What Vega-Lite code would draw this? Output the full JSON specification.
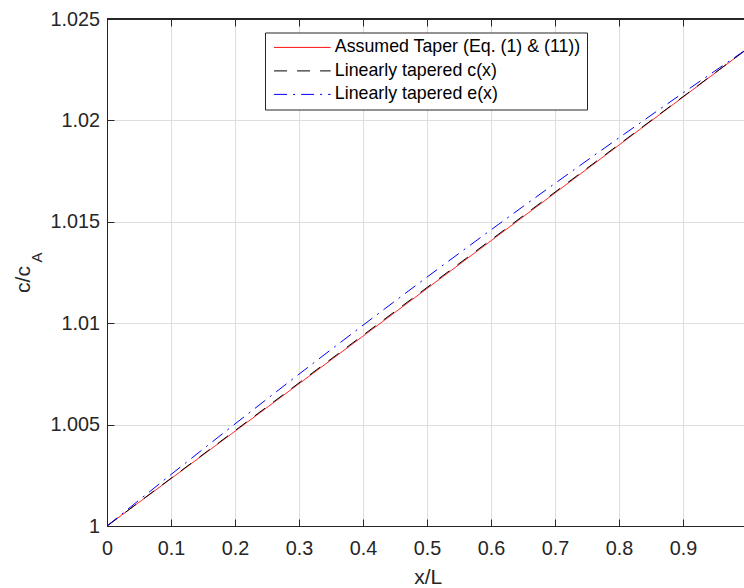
{
  "$schema": "https://vega.github.io/schema/vega-lite/v6.json",
  "width": 637,
  "height": 507,
  "autosize": "none",
  "padding": {"left": 107, "top": 19, "right": 0, "bottom": 62},
  "background": "white",
  "config": {
    "view": {"stroke": null},
    "font": "Liberation Sans",
    "axis": {
      "domainColor": "#262626",
      "domainWidth": 1,
      "tickColor": "#262626",
      "tickWidth": 1,
      "tickSize": -7,
      "labelColor": "#262626",
      "labelFont": "Liberation Sans",
      "labelFontSize": 19.8,
      "labelFlush": false,
      "labelOverlap": false,
      "labelBound": false,
      "titleColor": "#262626",
      "titleFont": "Liberation Sans",
      "titleFontSize": 21,
      "titleFontWeight": "normal",
      "gridColor": "#dedede",
      "gridWidth": 1
    },
    "legend": {
      "orient": "none",
      "legendX": 158,
      "legendY": 13.5,
      "symbolType": "M-1,0H8.7",
      "symbolSize": 136,
      "symbolStrokeWidth": 1,
      "labelFont": "Liberation Sans",
      "labelFontSize": 17.8,
      "labelColor": "#000000",
      "labelLimit": 400,
      "labelOffset": 46,
      "strokeColor": "#262626",
      "fillColor": "white",
      "padding": 6,
      "rowPadding": 4.5
    }
  },
  "data": {
    "values": [
      {"s": "Assumed Taper (Eq. (1) & (11))", "x": 0, "y": 1.0},
      {"s": "Assumed Taper (Eq. (1) & (11))", "x": 0.05, "y": 1.001167},
      {"s": "Assumed Taper (Eq. (1) & (11))", "x": 0.1, "y": 1.002334},
      {"s": "Assumed Taper (Eq. (1) & (11))", "x": 0.15, "y": 1.003503},
      {"s": "Assumed Taper (Eq. (1) & (11))", "x": 0.2, "y": 1.004672},
      {"s": "Assumed Taper (Eq. (1) & (11))", "x": 0.25, "y": 1.005843},
      {"s": "Assumed Taper (Eq. (1) & (11))", "x": 0.3, "y": 1.007014},
      {"s": "Assumed Taper (Eq. (1) & (11))", "x": 0.35, "y": 1.008187},
      {"s": "Assumed Taper (Eq. (1) & (11))", "x": 0.4, "y": 1.00936},
      {"s": "Assumed Taper (Eq. (1) & (11))", "x": 0.45, "y": 1.010535},
      {"s": "Assumed Taper (Eq. (1) & (11))", "x": 0.5, "y": 1.01171},
      {"s": "Assumed Taper (Eq. (1) & (11))", "x": 0.55, "y": 1.012886},
      {"s": "Assumed Taper (Eq. (1) & (11))", "x": 0.6, "y": 1.014064},
      {"s": "Assumed Taper (Eq. (1) & (11))", "x": 0.65, "y": 1.015243},
      {"s": "Assumed Taper (Eq. (1) & (11))", "x": 0.7, "y": 1.016422},
      {"s": "Assumed Taper (Eq. (1) & (11))", "x": 0.75, "y": 1.017603},
      {"s": "Assumed Taper (Eq. (1) & (11))", "x": 0.8, "y": 1.018784},
      {"s": "Assumed Taper (Eq. (1) & (11))", "x": 0.85, "y": 1.019967},
      {"s": "Assumed Taper (Eq. (1) & (11))", "x": 0.9, "y": 1.02115},
      {"s": "Assumed Taper (Eq. (1) & (11))", "x": 0.95, "y": 1.022335},
      {"s": "Assumed Taper (Eq. (1) & (11))", "x": 1.0, "y": 1.02352},
      {"s": "Linearly tapered c(x)", "x": 0, "y": 1.0},
      {"s": "Linearly tapered c(x)", "x": 0.25, "y": 1.00588},
      {"s": "Linearly tapered c(x)", "x": 0.5, "y": 1.01176},
      {"s": "Linearly tapered c(x)", "x": 0.75, "y": 1.01764},
      {"s": "Linearly tapered c(x)", "x": 1.0, "y": 1.02352},
      {"s": "Linearly tapered e(x)", "x": 0, "y": 1.0},
      {"s": "Linearly tapered e(x)", "x": 0.05, "y": 1.001273},
      {"s": "Linearly tapered e(x)", "x": 0.1, "y": 1.002537},
      {"s": "Linearly tapered e(x)", "x": 0.15, "y": 1.003789},
      {"s": "Linearly tapered e(x)", "x": 0.2, "y": 1.005032},
      {"s": "Linearly tapered e(x)", "x": 0.25, "y": 1.006264},
      {"s": "Linearly tapered e(x)", "x": 0.3, "y": 1.007487},
      {"s": "Linearly tapered e(x)", "x": 0.35, "y": 1.008698},
      {"s": "Linearly tapered e(x)", "x": 0.4, "y": 1.0099},
      {"s": "Linearly tapered e(x)", "x": 0.45, "y": 1.011091},
      {"s": "Linearly tapered e(x)", "x": 0.5, "y": 1.012273},
      {"s": "Linearly tapered e(x)", "x": 0.55, "y": 1.013443},
      {"s": "Linearly tapered e(x)", "x": 0.6, "y": 1.014604},
      {"s": "Linearly tapered e(x)", "x": 0.65, "y": 1.015754},
      {"s": "Linearly tapered e(x)", "x": 0.7, "y": 1.016895},
      {"s": "Linearly tapered e(x)", "x": 0.75, "y": 1.018024},
      {"s": "Linearly tapered e(x)", "x": 0.8, "y": 1.019144},
      {"s": "Linearly tapered e(x)", "x": 0.85, "y": 1.020253},
      {"s": "Linearly tapered e(x)", "x": 0.9, "y": 1.021353},
      {"s": "Linearly tapered e(x)", "x": 0.95, "y": 1.022441},
      {"s": "Linearly tapered e(x)", "x": 1.0, "y": 1.02352}
    ]
  },
  "layer": [
    {
      "mark": {"type": "line", "strokeWidth": 1, "clip": true},
      "encoding": {
        "x": {
          "field": "x", "type": "quantitative",
          "scale": {"domain": [0, 0.9953], "nice": false, "zero": false},
          "axis": {
            "orient": "bottom",
            "values": [0, 0.1, 0.2, 0.3, 0.4, 0.5, 0.6, 0.7, 0.8, 0.9],
            "format": "~g",
            "labelPadding": 19,
            "title": "x/L",
            "titleX": 320.7,
            "titleY": 57,
            "titleBaseline": "alphabetic",
            "titleAlign": "center"
          }
        },
        "y": {
          "field": "y", "type": "quantitative",
          "scale": {"domain": [1, 1.025], "nice": false, "zero": false},
          "axis": {
            "orient": "left",
            "values": [1, 1.005, 1.01, 1.015, 1.02, 1.025],
            "format": ".3~f",
            "labelPadding": 14.5,
            "title": "c/c",
            "titleAngle": -90,
            "titleX": -77.5,
            "titleY": 260,
            "titleBaseline": "alphabetic",
            "titleAlign": "center"
          }
        },
        "color": {
          "field": "s", "type": "nominal",
          "scale": {
            "domain": ["Assumed Taper (Eq. (1) & (11))", "Linearly tapered c(x)", "Linearly tapered e(x)"],
            "range": ["#ff0000", "#000000", "#0000ff"]
          },
          "legend": {"title": null}
        },
        "strokeDash": {
          "field": "s", "type": "nominal",
          "scale": {
            "domain": ["Assumed Taper (Eq. (1) & (11))", "Linearly tapered c(x)", "Linearly tapered e(x)"],
            "range": [[1, 0], [13, 10], [13, 6, 2, 6]]
          },
          "legend": {"title": null}
        }
      }
    },
    {
      "mark": {"type": "rule", "color": "#262626", "strokeWidth": 1},
      "encoding": {
        "y": {"datum": 1.025, "type": "quantitative", "axis": null}
      }
    },
    {
      "mark": {"type": "line", "opacity": 0, "clip": true},
      "encoding": {
        "x": {
          "field": "x", "type": "quantitative",
          "axis": {
            "orient": "top",
            "values": [0, 0.1, 0.2, 0.3, 0.4, 0.5, 0.6, 0.7, 0.8, 0.9],
            "labels": false,
            "grid": false,
            "domain": true,
            "ticks": true,
            "title": null
          }
        },
        "y": {
          "field": "y", "type": "quantitative",
          "axis": {
            "orient": "left",
            "labels": false,
            "ticks": false,
            "domain": false,
            "grid": false,
            "title": "A",
            "titleFontSize": 15,
            "titleAngle": -90,
            "titleX": -66,
            "titleY": 238,
            "titleBaseline": "alphabetic",
            "titleAlign": "center"
          }
        },
        "detail": {"field": "s", "type": "nominal"}
      }
    }
  ],
  "resolve": {"axis": {"x": "independent", "y": "independent"}}
}
